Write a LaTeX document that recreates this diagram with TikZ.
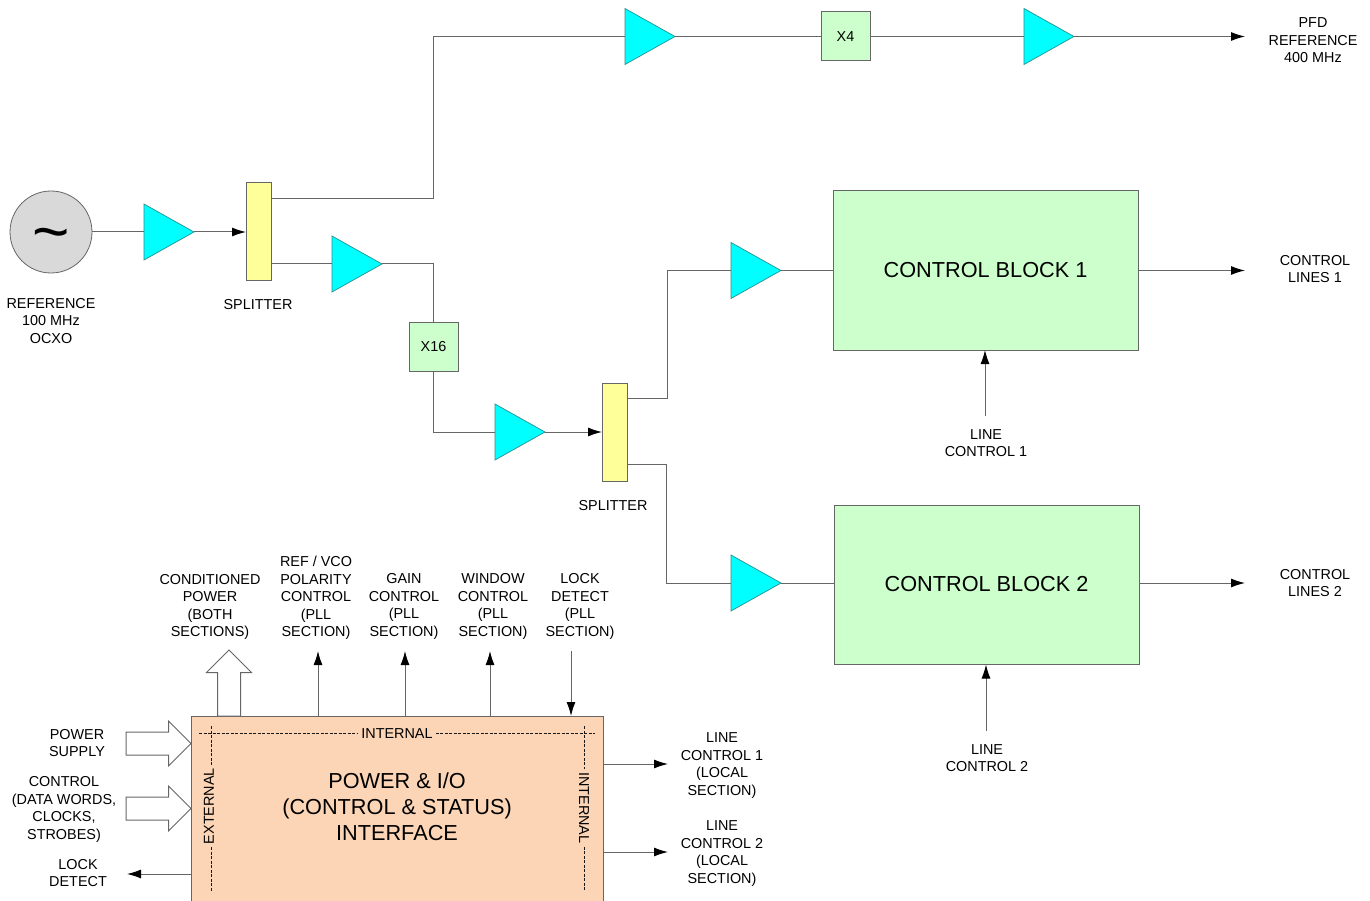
\documentclass[tikz,border=0pt]{standalone}
\usepackage{fontspec}
\setmainfont{Liberation Sans}
\usetikzlibrary{arrows.meta,calc,positioning,shapes.geometric,shapes.arrows}

\definecolor{ampcyan}{HTML}{00FFFF}
\definecolor{ampedge}{HTML}{2A8F8F}
\definecolor{splityellow}{HTML}{FFFF99}
\definecolor{blockgreen}{HTML}{CCFFCC}
\definecolor{ifacepeach}{HTML}{FBD5B5}
\definecolor{wiregray}{HTML}{666666}
\definecolor{oscgray}{HTML}{D9D9D9}

\newcommand{\lab}{\fontsize{14.4}{17.45}\selectfont}
\newcommand{\biglab}{\fontsize{21.7}{26}\selectfont}

\tikzset{
  every node/.style={outer sep=0pt},
  wire/.style={draw=wiregray, line width=1pt},
  arrowwire/.style={wire, -{Latex[length=14pt,width=9pt,color=black]}},
  dashwire/.style={black!90, line width=1pt, dash pattern=on 3pt off 1.5pt},
  amp/.style={isosceles triangle, isosceles triangle stretches, shape border rotate=0, anchor=west,
    minimum width=56pt, minimum height=50pt, inner sep=0pt, draw=ampedge, fill=ampcyan, line width=0.7pt},
  splitbox/.style={draw=wiregray, fill=splityellow, line width=1pt, minimum width=25pt, minimum height=98pt, inner sep=0pt},
  mulbox/.style={draw=wiregray, fill=blockgreen, line width=1pt, minimum size=49pt, inner sep=0pt, font=\lab},
  ctrlbox/.style={draw=wiregray, fill=blockgreen, line width=1pt, minimum width=305pt, minimum height=159pt, inner sep=0pt, font=\biglab},
  lab/.style={align=center, inner sep=0pt, font=\lab},
  hollow/.style={single arrow, draw=wiregray, fill=white, line width=1pt, inner xsep=0pt, inner ysep=11pt,
    single arrow head extend=11pt, single arrow tip angle=90, anchor=tip},
}

\begin{document}
\begin{tikzpicture}[x=1pt, y=-1pt, >=Latex, node distance=52pt]
  \useasboundingbox (0,0) rectangle (1370,901);

  % reference and first splitter
  \node[circle, draw=wiregray, fill=oscgray, line width=0.8pt, minimum size=82pt, inner sep=0pt,
    font=\fontsize{64}{64}\selectfont] (osc) at (51,232) {\smash{\raisebox{-22pt}{\textasciitilde}}};
  \node[amp, right=52pt of osc] (amp1) {};
  \node[splitbox, right=52pt of amp1.apex] (split1) {};
  \node[lab] (osclab) at (51,321) {REFERENCE\\100 MHz\\OCXO};
  \node[lab] (split1lab) at (258,304.5) {SPLITTER};
  \draw[wire] (osc) -- (amp1.west);
  \draw[arrowwire] (amp1.apex) -- (split1);

  % top chain
  \coordinate (topbend) at (433,199);
  \node[amp] (amp2) at (625,36.5) {};
  \node[mulbox] (x4) at (845.5,36.5) {X4};
  \node[amp] (amp3) at (1024,36.5) {};
  \coordinate (pfdend) at (1245,36.5);
  \node[lab] (pfdlab) at (1313,40.5) {PFD\\REFERENCE\\400 MHz};
  \draw[wire] (topbend -| split1.east) -- (topbend) -- (topbend |- amp2.west) -- (amp2.west);
  \draw[wire] (amp2.apex) -- (x4);
  \draw[wire] (x4) -- (amp3.west);
  \draw[arrowwire] (amp3.apex) -- (pfdend);

  % x16 chain
  \node[amp] (amp4) at (332,264) {};
  \node[mulbox] (x16) at (433.5,346.5) {X16};
  \node[amp] (amp5) at (495,432) {};
  \node[splitbox] (split2) at (614.5,432) {};
  \node[lab] (split2lab) at (613,505.5) {SPLITTER};
  \draw[wire] (amp4.west -| split1.east) -- (amp4.west);
  \draw[wire] (amp4.apex) -| (x16);
  \draw[wire] (x16) |- (amp5.west);
  \draw[arrowwire] (amp5.apex) -- (split2);

  % control blocks
  \node[amp] (amp6) at (731,270.5) {};
  \node[amp] (amp7) at (731,583) {};
  \node[ctrlbox] (block1) at (985.5,270.5) {CONTROL BLOCK 1};
  \node[ctrlbox] (block2) at (986.5,585) {\raisebox{1.5pt}{CONTROL BLOCK 2}};
  \coordinate (upbend) at (667,398);
  \coordinate (lowbend) at (666,464);
  \draw[wire] (upbend -| split2.east) -- (upbend) |- (amp6.west);
  \draw[wire] (lowbend -| split2.east) -- (lowbend) |- (amp7.west);
  \draw[wire] (amp6.apex) -- (amp6.apex -| block1.west);
  \draw[wire] (amp7.apex) -- (amp7.apex -| block2.west);
  \coordinate (out1) at (1245,270.5);
  \coordinate (out2) at (1245,583);
  \draw[arrowwire] (out1 -| block1.east) -- (out1);
  \draw[arrowwire] (out2 -| block2.east) -- (out2);
  \node[lab] (out1lab) at (1315,269) {CONTROL\\LINES 1};
  \node[lab] (out2lab) at (1315,583) {CONTROL\\LINES 2};
  \node[lab] (ctl1lab) at (986,443) {LINE\\CONTROL 1};
  \node[lab] (ctl2lab) at (987,758) {LINE\\CONTROL 2};
  \coordinate (ctl1end) at (985,416);
  \coordinate (ctl2end) at (986,731);
  \draw[arrowwire] (ctl1end) -- (ctl1end |- block1.south);
  \draw[arrowwire] (ctl2end) -- (ctl2end |- block2.south);

  % interface block
  \node[draw=wiregray, fill=ifacepeach, line width=1pt, minimum width=412.5pt, minimum height=185pt,
    inner sep=0pt] (iface) at (397.5,808.5) {};
  \node[align=center, inner sep=0pt, font=\biglab] (ifacelab) at (397,807) {POWER \& I/O\\(CONTROL \& STATUS)\\INTERFACE};

  \node[lab, inner xsep=3pt] (inttop) at (397,733.5) {INTERNAL};
  \node[lab, rotate=90, inner xsep=3pt] (extleft) at (209,806) {EXTERNAL};
  \node[lab, rotate=-90, inner xsep=3pt] (intright) at (584,808) {INTERNAL};
  \coordinate (dashtl) at (199,733);
  \coordinate (dashtr) at (595,733);
  \coordinate (dashlt) at (211,726);
  \coordinate (dashlb) at (211,891);
  \coordinate (dashrt) at (584,726);
  \coordinate (dashrb) at (584,891);
  \draw[dashwire] (dashtl) -- (dashtl -| inttop.west);
  \draw[dashwire] (dashtr -| inttop.east) -- (dashtr);
  \draw[dashwire] (dashlt) -- (dashlt |- extleft.east);
  \draw[dashwire] (dashlb |- extleft.west) -- (dashlb);
  \draw[dashwire] (dashrt) -- (dashrt |- intright.west);
  \draw[dashwire] (dashrb |- intright.east) -- (dashrb);

  % top side of interface
  \node[hollow, rotate=90, minimum height=66pt] (condarrow) at (229,650) {};
  \node[lab] (condlab) at (210,607) {CONDITIONED\\POWER\\(BOTH\\SECTIONS)};
  \node[lab] (reflab) at (316,598) {REF / VCO\\POLARITY\\CONTROL\\(PLL\\SECTION)};
  \node[lab] (gainlab) at (404,606.5) {GAIN\\CONTROL\\(PLL\\SECTION)};
  \node[lab] (winlab) at (493,606.5) {WINDOW\\CONTROL\\(PLL\\SECTION)};
  \node[lab] (locklab) at (580,606.5) {LOCK\\DETECT\\(PLL\\SECTION)};
  \coordinate (refend) at (318,651);
  \coordinate (gainend) at (405,651);
  \coordinate (winend) at (490,651);
  \coordinate (lockend) at (571,651);
  \draw[arrowwire] (refend |- iface.north) -- (refend);
  \draw[arrowwire] (gainend |- iface.north) -- (gainend);
  \draw[arrowwire] (winend |- iface.north) -- (winend);
  \draw[arrowwire] (lockend) -- (lockend |- iface.north);

  % left side of interface
  \node[hollow, minimum height=65pt] (pwrarrow) at (191,743.5) {};
  \node[hollow, minimum height=65pt] (ctlarrow) at (191,808.5) {};
  \node[lab] (pwrlab) at (77,743) {POWER\\SUPPLY};
  \node[lab] (ctllab) at (64,809.5) {CONTROL\\(DATA WORDS,\\CLOCKS,\\STROBES)};
  \node[lab] (detlab) at (78,873) {LOCK\\DETECT};
  \coordinate (detend) at (127,874);
  \draw[arrowwire] (detend -| iface.west) -- (detend);

  % right side of interface
  \coordinate (lc1end) at (668,764);
  \coordinate (lc2end) at (668,852);
  \draw[arrowwire] (lc1end -| iface.east) -- (lc1end);
  \draw[arrowwire] (lc2end -| iface.east) -- (lc2end);
  \node[lab] (lc1lab) at (722,765.5) {LINE\\CONTROL 1\\(LOCAL\\SECTION)};
  \node[lab] (lc2lab) at (722,853.5) {LINE\\CONTROL 2\\(LOCAL\\SECTION)};
\end{tikzpicture}
\end{document}
